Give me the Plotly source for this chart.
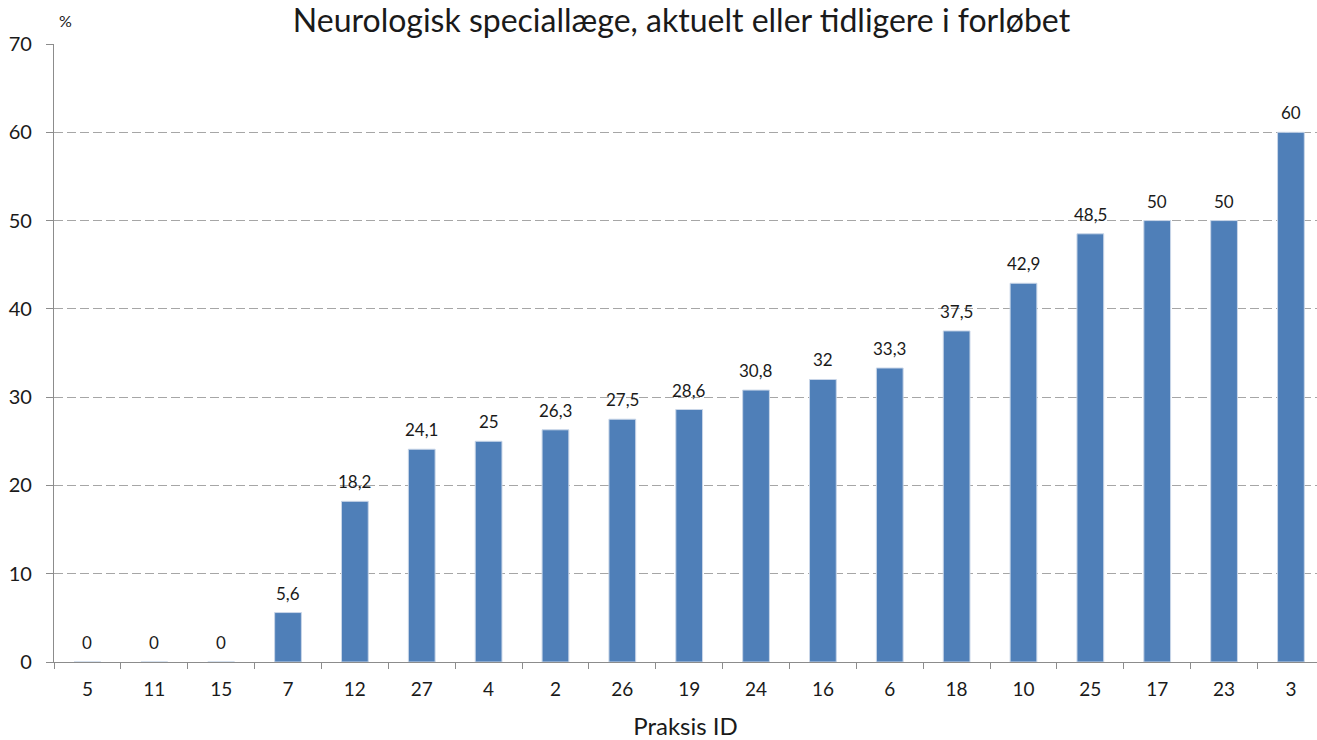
import plotly.graph_objects as go

categories = ["5", "11", "15", "7", "12", "27", "4", "2", "26", "19",
              "24", "16", "6", "18", "10", "25", "17", "23", "3"]
values = [0, 0, 0, 5.6, 18.2, 24.1, 25, 26.3, 27.5, 28.6,
          30.8, 32, 33.3, 37.5, 42.9, 48.5, 50, 50, 60]
y_ticks = [0, 10, 20, 30, 40, 50, 60, 70]

title_text = "Neurologisk speciallæge, aktuelt eller tidligere i forløbet"
x_title = "Praksis ID"
y_unit = "%"

FONT = "Lato"
TXT = "#1a1a1a"
AXIS = "#8c8c8c"


def fmt(v):
    return f"{v:g}".replace(".", ",")


fig = go.Figure()
fig.add_trace(go.Bar(
    x=categories, y=values,
    marker=dict(color="#4F7FB8", line=dict(color="#C9D6E8", width=1)),
    hoverinfo="x+y",
))

annotations = []
for i, v in enumerate(values):
    annotations.append(dict(
        x=i, y=v, xref="x", yref="y", text=fmt(v), showarrow=False,
        yanchor="bottom", xanchor="center", yshift=7,
        font=dict(family=FONT, size=17, color=TXT),
    ))
annotations.append(dict(
    x=0, y=1, xref="paper", yref="paper", text=y_unit, showarrow=False,
    xanchor="center", yanchor="middle", xshift=11, yshift=24,
    font=dict(family=FONT, size=16, color=TXT),
))

fig.update_layout(
    width=1317, height=740,
    margin=dict(l=54, r=0, t=44, b=78),
    paper_bgcolor="white", plot_bgcolor="white",
    bargap=0.6,
    showlegend=False,
    font=dict(family=FONT, color=TXT),
    title=dict(text=title_text, x=681.5 / 1317, xanchor="center",
               xref="container", yref="container", y=1 - 21 / 740,
               yanchor="middle", font=dict(family=FONT, size=32, color=TXT)),
    annotations=annotations,
    xaxis=dict(
        type="category", range=[-0.5, 18.39], automargin=False,
        showline=True, linecolor=AXIS, linewidth=1.3,
        ticks="outside", tickson="boundaries", ticklen=6, tickcolor=AXIS,
        tickwidth=1.3,
        tickfont=dict(family=FONT, size=19, color=TXT),
        ticklabelstandoff=10,
        showgrid=False,
        title=dict(text=x_title, font=dict(family=FONT, size=24, color=TXT),
                   standoff=25),
    ),
    yaxis=dict(
        range=[0, 70], tickvals=y_ticks, automargin=False,
        showline=True, linecolor=AXIS, linewidth=1.3,
        ticks="outside", ticklen=7, tickcolor=AXIS, tickwidth=1.3,
        tickfont=dict(family=FONT, size=20, color=TXT),
        ticklabelstandoff=10,
        showgrid=True, gridcolor="#a6a6a6", gridwidth=1.3, griddash="9px,4px",
        zeroline=False,
    ),
)

fig.write_html("out.html", config={"displayModeBar": False},
               post_script="document.body.style.margin='0';")
